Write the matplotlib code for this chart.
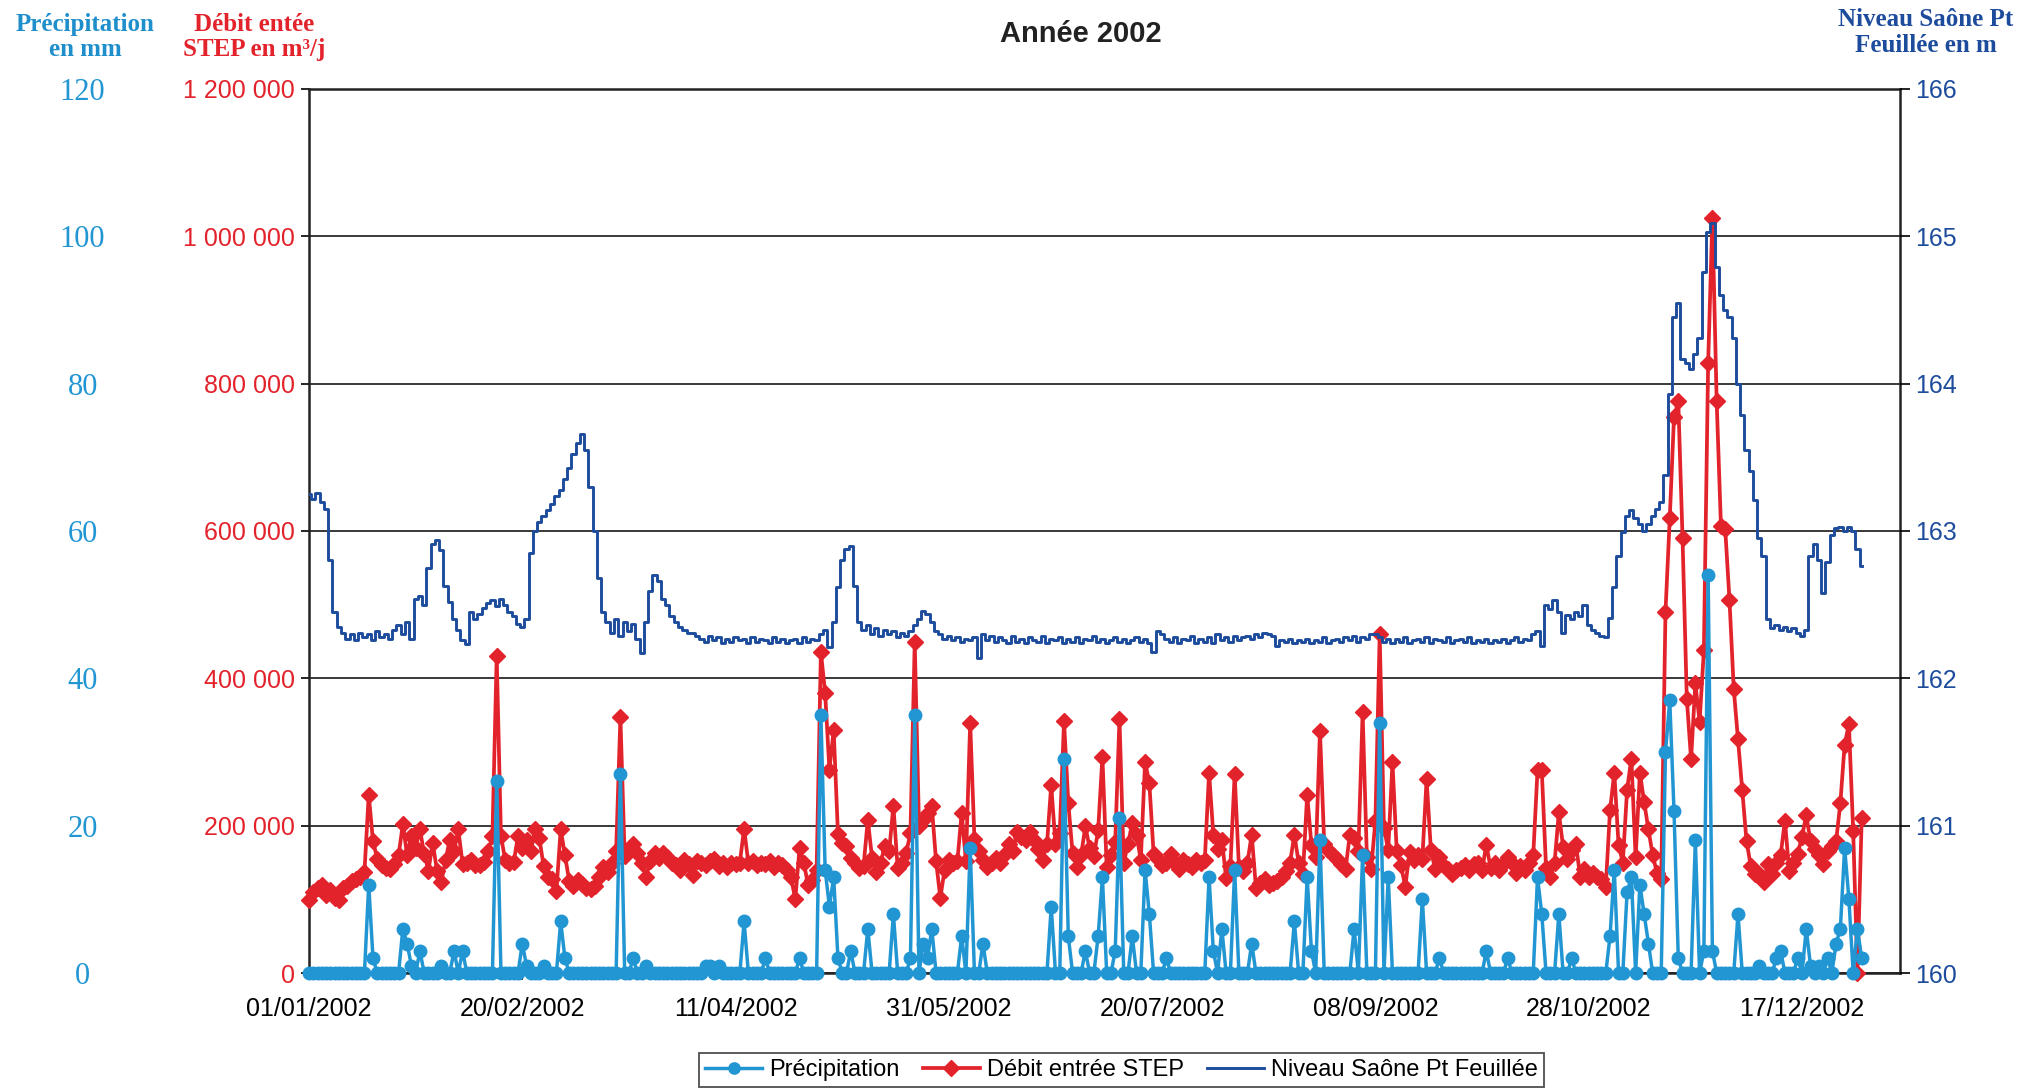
import matplotlib
matplotlib.use("Agg")
import matplotlib.pyplot as plt
from matplotlib.ticker import FuncFormatter
import numpy as np
import pandas as pd

plt.rcParams['font.family'] = ['Liberation Sans', 'DejaVu Sans']

# ---------------- data (daily values, 01/01/2002 -> 31/12/2002) ----------------
date_labels = ["01/01/2002", "20/02/2002", "11/04/2002", "31/05/2002",
               "20/07/2002", "08/09/2002", "28/10/2002", "17/12/2002"]

precip_mm = [
    0, 0, 0, 0, 0, 0, 0, 0, 0, 0, 0, 0, 0, 0, 12, 2, 0, 0, 0, 0,
    0, 0, 6, 4, 1, 0, 3, 0, 0, 0, 0, 1, 0, 0, 3, 0, 3, 0, 0, 0,
    0, 0, 0, 0, 26, 0, 0, 0, 0, 0, 4, 1, 0, 0, 0, 1, 0, 0, 0, 7,
    2, 0, 0, 0, 0, 0, 0, 0, 0, 0, 0, 0, 0, 27, 0, 0, 2, 0, 0, 1,
    0, 0, 0, 0, 0, 0, 0, 0, 0, 0, 0, 0, 0, 1, 1, 0, 1, 0, 0, 0,
    0, 0, 7, 0, 0, 0, 0, 2, 0, 0, 0, 0, 0, 0, 0, 2, 0, 0, 0, 0,
    35, 14, 9, 13, 2, 0, 0, 3, 0, 0, 0, 6, 0, 0, 0, 0, 0, 8, 0, 0,
    0, 2, 35, 0, 4, 2, 6, 0, 0, 0, 0, 0, 0, 5, 0, 17, 0, 0, 4, 0,
    0, 0, 0, 0, 0, 0, 0, 0, 0, 0, 0, 0, 0, 0, 9, 0, 0, 29, 5, 0,
    0, 0, 3, 0, 0, 5, 13, 0, 0, 3, 21, 0, 0, 5, 0, 0, 14, 8, 0, 0,
    0, 2, 0, 0, 0, 0, 0, 0, 0, 0, 0, 13, 3, 0, 6, 0, 0, 14, 0, 0,
    0, 4, 0, 0, 0, 0, 0, 0, 0, 0, 0, 7, 0, 0, 13, 3, 0, 18, 0, 0,
    0, 0, 0, 0, 0, 6, 0, 16, 0, 0, 0, 34, 0, 13, 0, 0, 0, 0, 0, 0,
    0, 10, 0, 0, 0, 2, 0, 0, 0, 0, 0, 0, 0, 0, 0, 0, 3, 0, 0, 0,
    0, 2, 0, 0, 0, 0, 0, 0, 13, 8, 0, 0, 0, 8, 0, 0, 2, 0, 0, 0,
    0, 0, 0, 0, 0, 5, 14, 0, 0, 11, 13, 0, 12, 8, 4, 0, 0, 0, 30, 37,
    22, 2, 0, 0, 0, 18, 0, 3, 54, 3, 0, 0, 0, 0, 0, 8, 0, 0, 0, 0,
    1, 0, 0, 0, 2, 3, 0, 0, 0, 2, 0, 6, 1, 0, 1, 0, 2, 0, 4, 6,
    17, 10, 0, 6, 2,
]

# Débit entrée STEP, in thousands of m3/j
debit_k = [
    99, 110, 116, 120, 106, 113, 102, 99, 116, 118, 125, 128, 130, 137, 242, 179, 155, 146, 143, 141,
    148, 160, 202, 160, 186, 170, 195, 162, 139, 177, 139, 123, 153, 181, 165, 195, 148, 150, 153, 146,
    146, 151, 165, 186, 430, 186, 153, 150, 151, 186, 170, 181, 165, 195, 183, 145, 130, 128, 111, 195,
    160, 125, 118, 126, 121, 116, 114, 118, 130, 144, 137, 150, 165, 347, 159, 168, 175, 163, 150, 130,
    152, 163, 156, 163, 158, 150, 147, 140, 154, 148, 133, 152, 150, 147, 152, 155, 145, 150, 144, 150,
    148, 150, 196, 149, 152, 146, 150, 148, 152, 144, 150, 146, 140, 130, 100, 170, 150, 119, 126, 140,
    436, 380, 276, 330, 189, 177, 172, 156, 150, 142, 145, 208, 156, 137, 150, 172, 165, 227, 142, 150,
    163, 190, 450, 200, 208, 217, 227, 152, 102, 140, 154, 150, 152, 217, 152, 340, 182, 165, 154, 144,
    150, 156, 150, 160, 175, 165, 191, 185, 180, 191, 180, 168, 154, 175, 255, 175, 190, 342, 231, 163,
    144, 160, 199, 170, 159, 194, 293, 144, 160, 178, 345, 150, 175, 204, 188, 153, 287, 258, 162, 155,
    146, 150, 162, 150, 141, 153, 148, 144, 153, 150, 153, 272, 188, 169, 181, 129, 145, 270, 144, 139,
    150, 188, 115, 122, 127, 120, 122, 125, 130, 139, 150, 188, 150, 134, 242, 174, 157, 329, 175, 167,
    160, 155, 148, 141, 188, 183, 165, 354, 157, 141, 207, 460, 197, 167, 286, 165, 146, 117, 164, 153,
    160, 155, 263, 167, 141, 157, 145, 141, 134, 140, 143, 146, 140, 148, 150, 140, 174, 143, 150, 140,
    148, 157, 150, 136, 145, 140, 150, 160, 275, 275, 143, 131, 150, 218, 171, 155, 167, 175, 131, 141,
    130, 136, 131, 128, 117, 221, 272, 174, 150, 249, 291, 157, 272, 232, 195, 160, 136, 128, 490, 617,
    755, 776, 590, 372, 290, 393, 341, 438, 828, 1025, 776, 607, 603, 507, 386, 317, 248, 179, 145, 134,
    134, 124, 148, 135, 150, 160, 207, 138, 150, 162, 185, 214, 179, 169, 160, 148, 166, 172, 179, 231,
    310, 338, 193, 0, 210,
]

niveau_m = [
    163.25, 163.22, 163.26, 163.20, 163.15, 162.80, 162.45, 162.35, 162.31, 162.27,
    162.30, 162.26, 162.31, 162.28, 162.30, 162.26, 162.32, 162.28, 162.30, 162.27,
    162.33, 162.36, 162.30, 162.38, 162.27, 162.54, 162.56, 162.50, 162.75, 162.91,
    162.94, 162.87, 162.63, 162.52, 162.40, 162.33, 162.26, 162.23, 162.45, 162.40,
    162.44, 162.48, 162.51, 162.53, 162.49, 162.54, 162.50, 162.45, 162.42, 162.37,
    162.35, 162.40, 162.85, 163.00, 163.06, 163.10, 163.14, 163.18, 163.24, 163.28,
    163.35, 163.43, 163.52, 163.60, 163.66, 163.55, 163.30, 163.00, 162.68, 162.45,
    162.38, 162.31, 162.40, 162.29, 162.38, 162.32, 162.37, 162.27, 162.17, 162.38,
    162.59, 162.70, 162.66, 162.54, 162.50, 162.42, 162.38, 162.35, 162.33, 162.31,
    162.31, 162.29, 162.27, 162.25, 162.29, 162.26, 162.28, 162.24, 162.27, 162.25,
    162.28, 162.26, 162.27, 162.24, 162.28, 162.25, 162.27, 162.26, 162.24, 162.28,
    162.25, 162.27, 162.24, 162.26, 162.27, 162.24, 162.28, 162.25, 162.27, 162.26,
    162.30, 162.33, 162.21, 162.38, 162.62, 162.80, 162.88, 162.90, 162.63, 162.38,
    162.33, 162.36, 162.30, 162.34, 162.29, 162.33, 162.30, 162.32, 162.28, 162.31,
    162.29, 162.32, 162.36, 162.40, 162.46, 162.44, 162.38, 162.32, 162.30, 162.27,
    162.29, 162.26, 162.28, 162.25, 162.27, 162.26, 162.28, 162.14, 162.30, 162.26,
    162.29, 162.25, 162.28, 162.26, 162.24, 162.29, 162.25, 162.27, 162.24, 162.28,
    162.26, 162.25, 162.29, 162.24, 162.27, 162.26, 162.28, 162.24, 162.27, 162.25,
    162.28, 162.24, 162.27, 162.26, 162.29, 162.25, 162.27, 162.24, 162.26, 162.28,
    162.25, 162.27, 162.24, 162.26, 162.28, 162.25, 162.27, 162.24, 162.18, 162.32,
    162.30, 162.27, 162.25, 162.28, 162.24, 162.27, 162.26, 162.29, 162.24, 162.27,
    162.25, 162.28, 162.24, 162.30, 162.26, 162.28, 162.25, 162.29, 162.26, 162.28,
    162.29, 162.27, 162.30, 162.28, 162.31, 162.30, 162.29, 162.22, 162.26, 162.25,
    162.27, 162.24, 162.26, 162.25, 162.27, 162.24, 162.26, 162.25, 162.28, 162.24,
    162.26, 162.27, 162.25, 162.28, 162.26, 162.29, 162.25, 162.28, 162.27, 162.30,
    162.30, 162.28, 162.25, 162.27, 162.24, 162.27, 162.25, 162.28, 162.24, 162.26,
    162.27, 162.25, 162.28, 162.24, 162.27, 162.26, 162.25, 162.28, 162.24, 162.26,
    162.27, 162.25, 162.28, 162.24, 162.26, 162.25, 162.27, 162.24, 162.26, 162.25,
    162.27, 162.24, 162.26, 162.28, 162.25, 162.27, 162.26, 162.30, 162.32, 162.22,
    162.50, 162.47, 162.53, 162.45, 162.31, 162.43, 162.40, 162.45, 162.42, 162.50,
    162.36, 162.33, 162.31, 162.29, 162.28, 162.41, 162.62, 162.83, 162.99, 163.10,
    163.14, 163.09, 163.05, 163.00, 163.05, 163.10, 163.15, 163.20, 163.38, 163.93,
    164.45, 164.55, 164.17, 164.14, 164.10, 164.20, 164.31, 164.76, 165.03, 165.09,
    164.79, 164.60, 164.50, 164.45, 164.31, 164.00, 163.79, 163.55, 163.41, 163.21,
    162.95, 162.83, 162.40, 162.34, 162.36, 162.33, 162.35, 162.32, 162.34, 162.31,
    162.29, 162.33, 162.83, 162.91, 162.80, 162.58, 162.79, 162.97, 163.02, 163.03,
    163.00, 163.03, 163.00, 162.88, 162.76,
]

series_names = ["Précipitation", "Débit entrée STEP", "Niveau Saône Pt Feuillée"]
start_date = "2002-01-01"
end_date = "2003-01-09"

# ---------------- figure ----------------
PBLUE = "#2196d3"
PBLUE_TXT = "#1f8fcc"
RED = "#e3232c"
NAVY = "#1d4c9c"

dates = pd.date_range(start_date, periods=len(precip_mm), freq="D")
debit = np.array(debit_k) * 1000

fig = plt.figure(figsize=(20.43, 10.89), dpi=100)
fig.patch.set_facecolor("white")
ax = fig.add_axes([0.15125, 0.1065, 0.7788, 0.8118])
ax_n = ax.twinx()
ax_p = ax.twinx()

# Débit axis (left, red labels)
ax.set_ylim(0, 1.2e6)
ax.set_yticks(np.arange(0, 1.2e6 + 1, 2e5))
ax.yaxis.set_major_formatter(FuncFormatter(lambda v, p: f"{int(round(v)):,}".replace(",", " ")))
ax.tick_params(axis="y", labelcolor=RED, labelsize=18, length=6, width=1.2, pad=4, direction="out")
ax.grid(axis="y", color="#2a2a2a", lw=1.3)
ax.set_axisbelow(True)
for s in ax.spines.values():
    s.set_color("#222222")
    s.set_linewidth(1.8)

# X axis (dates)
ax.set_xlim(pd.Timestamp(start_date), pd.Timestamp(end_date))
tick_dates = pd.to_datetime(date_labels, format="%d/%m/%Y")
ax.set_xticks(tick_dates)
ax.set_xticklabels(date_labels)
ax.tick_params(axis="x", labelsize=18, length=5, width=1.2, pad=12, direction="out")

# Level axis (right)
ax_n.set_ylim(160, 166)
ax_n.set_yticks(np.arange(160, 167, 1))
ax_n.tick_params(axis="y", labelcolor=NAVY, labelsize=18, length=7, width=1.2, pad=4, direction="out")
for s in ax_n.spines.values():
    s.set_visible(False)

# Precipitation axis (far left, serif labels)
ax_p.set_ylim(0, 120)
ax_p.yaxis.tick_left()
p_ticks = np.arange(0, 121, 20)
ax_p.set_yticks(p_ticks, labels=[str(int(t)) for t in p_ticks],
                fontfamily="Liberation Serif", ha="center")
ax_p.tick_params(axis="y", labelcolor=PBLUE, labelsize=22, length=0, pad=163)
for s in ax_p.spines.values():
    s.set_visible(False)

# series
l_deb, = ax.plot(dates, debit, color=RED, lw=2.7, marker="D", ms=8.5,
                 mfc=RED, mec=RED, clip_on=False, zorder=3)
l_niv, = ax_n.plot(dates, niveau_m, color=NAVY, lw=2.1, drawstyle="steps-mid")
l_pre, = ax_p.plot(dates, precip_mm, color=PBLUE, lw=2.5, marker="o", ms=9,
                   mfc=PBLUE, mec=PBLUE, clip_on=False, zorder=4)

# titles / headers
fig.text(0.529, 0.969, "Année 2002", ha="center", va="center", fontsize=21, fontweight="bold",
         color="#222222")
fig.text(0.0416, 0.966, "Précipitation\nen mm", ha="center", va="center", fontsize=18,
         fontweight="bold", color=PBLUE_TXT, family="Liberation Serif", linespacing=1.15)
fig.text(0.1243, 0.966, "Débit entée\nSTEP en m³/j", ha="center", va="center", fontsize=18,
         fontweight="bold", color=RED, family="Liberation Serif", linespacing=1.15)
fig.text(0.9427, 0.970, "Niveau Saône Pt\nFeuillée en m", ha="center", va="center", fontsize=18,
         fontweight="bold", color=NAVY, family="Liberation Serif", linespacing=1.15)

leg = fig.legend([l_pre, l_deb, l_niv], series_names, loc="center",
                 bbox_to_anchor=(0.549, 0.0175), ncol=3, frameon=True, fancybox=False,
                 edgecolor="#222222", fontsize=17, handlelength=2.4, columnspacing=1.0,
                 handletextpad=0.3, borderpad=0.25, markerscale=0.9)
leg.get_frame().set_linewidth(1.3)

fig.savefig("out.png", dpi=100, facecolor="white")
